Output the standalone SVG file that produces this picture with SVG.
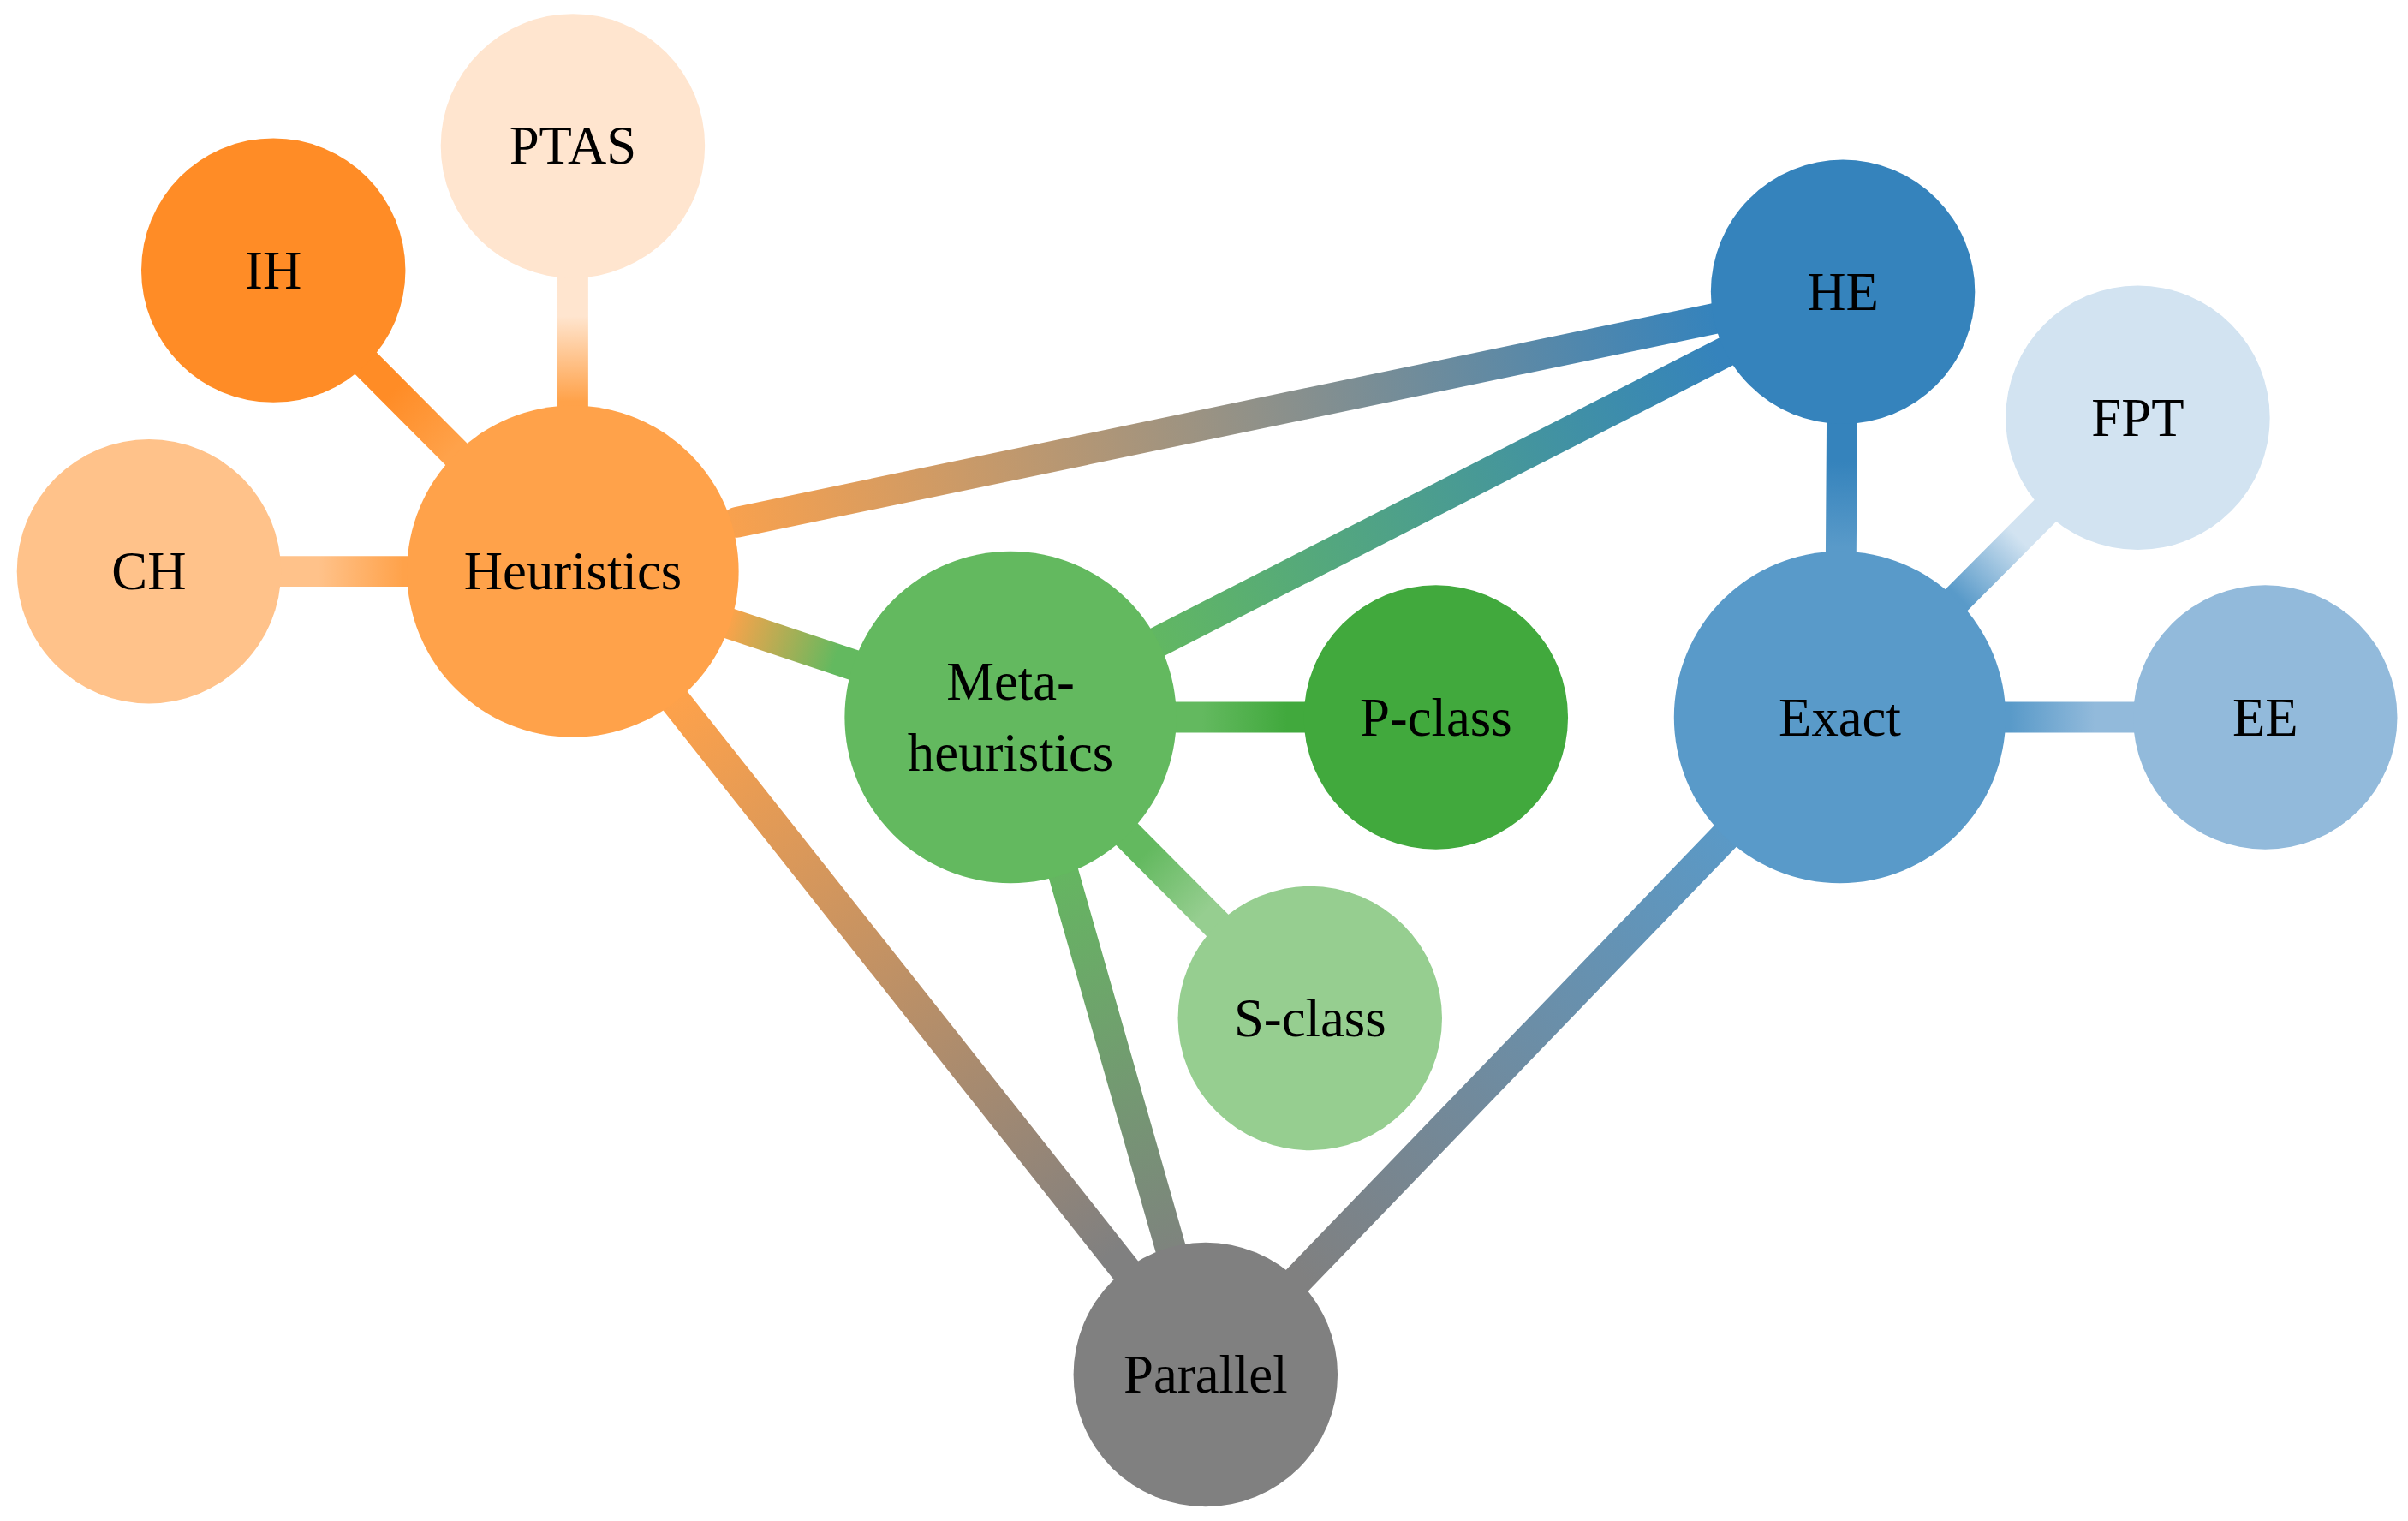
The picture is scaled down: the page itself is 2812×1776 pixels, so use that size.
<svg xmlns="http://www.w3.org/2000/svg" width="2812" height="1776" viewBox="0 0 2812 1776">
<style>
text{font-family:"Liberation Serif","DejaVu Serif",serif;font-size:35px;fill:#000;text-anchor:middle;dominant-baseline:central}
.c{stroke-width:20;stroke-linecap:round;fill:none}
</style>
<defs>
<linearGradient id="g1" gradientUnits="userSpaceOnUse" x1="373" y1="372" x2="373" y2="95"><stop offset="0.4" stop-color="#FFA24A"/><stop offset="0.6" stop-color="#FFE5CF"/></linearGradient>
<linearGradient id="g2" gradientUnits="userSpaceOnUse" x1="373" y1="372" x2="178" y2="176"><stop offset="0.4" stop-color="#FFA24A"/><stop offset="0.6" stop-color="#FF8C26"/></linearGradient>
<linearGradient id="g3" gradientUnits="userSpaceOnUse" x1="373" y1="372" x2="97" y2="372"><stop offset="0.4" stop-color="#FFA24A"/><stop offset="0.6" stop-color="#FFC28A"/></linearGradient>
<linearGradient id="g4" gradientUnits="userSpaceOnUse" x1="373" y1="372" x2="658" y2="467"><stop offset="0.35" stop-color="#FFA24A"/><stop offset="0.6" stop-color="#63B95F"/></linearGradient>
<linearGradient id="g5" gradientUnits="userSpaceOnUse" x1="373" y1="372" x2="1200" y2="190"><stop offset="0.1" stop-color="#FFA24A"/><stop offset="0.9" stop-color="#3583BC"/></linearGradient>
<linearGradient id="g6" gradientUnits="userSpaceOnUse" x1="373" y1="372" x2="785" y2="895"><stop offset="0.15" stop-color="#FFA24A"/><stop offset="0.85" stop-color="#808080"/></linearGradient>
<linearGradient id="g7" gradientUnits="userSpaceOnUse" x1="658" y1="467" x2="1200" y2="190"><stop offset="0.15" stop-color="#63B95F"/><stop offset="0.85" stop-color="#3583BC"/></linearGradient>
<linearGradient id="g8" gradientUnits="userSpaceOnUse" x1="658" y1="467" x2="785" y2="895"><stop offset="0.2" stop-color="#63B95F"/><stop offset="0.85" stop-color="#808080"/></linearGradient>
<linearGradient id="g9" gradientUnits="userSpaceOnUse" x1="658" y1="467" x2="935" y2="467"><stop offset="0.45" stop-color="#63B95F"/><stop offset="0.65" stop-color="#41A93D"/></linearGradient>
<linearGradient id="g10" gradientUnits="userSpaceOnUse" x1="658" y1="467" x2="853" y2="663"><stop offset="0.45" stop-color="#63B95F"/><stop offset="0.65" stop-color="#96CE90"/></linearGradient>
<linearGradient id="g11" gradientUnits="userSpaceOnUse" x1="1198" y1="467" x2="1200" y2="190"><stop offset="0.4" stop-color="#599AC9"/><stop offset="0.6" stop-color="#3583BC"/></linearGradient>
<linearGradient id="g12" gradientUnits="userSpaceOnUse" x1="1198" y1="467" x2="1392" y2="272"><stop offset="0.4" stop-color="#599AC9"/><stop offset="0.6" stop-color="#D2E3F1"/></linearGradient>
<linearGradient id="g13" gradientUnits="userSpaceOnUse" x1="1198" y1="467" x2="1475" y2="467"><stop offset="0.4" stop-color="#599AC9"/><stop offset="0.6" stop-color="#92BADB"/></linearGradient>
<linearGradient id="g14" gradientUnits="userSpaceOnUse" x1="1198" y1="467" x2="785" y2="895"><stop offset="0.15" stop-color="#599AC9"/><stop offset="0.85" stop-color="#808080"/></linearGradient>
</defs>
<g transform="scale(1.7934)">
<g id="connectors">
<line class="c" x1="373" y1="372" x2="373" y2="95" stroke="url(#g1)" stroke-width="24"/>
<line class="c" x1="373" y1="372" x2="178" y2="176" stroke="url(#g2)" stroke-width="24"/>
<line class="c" x1="373" y1="372" x2="97" y2="372" stroke="url(#g3)" stroke-width="24"/>
<line class="c" x1="373" y1="372" x2="658" y2="467" stroke="url(#g4)" stroke-width="30"/>
<line class="c" x1="480" y1="340" x2="1200" y2="190" stroke="url(#g5)" stroke-width="17"/>
<line class="c" x1="373" y1="372" x2="775" y2="880" stroke="url(#g6)" stroke-width="17"/>
<line class="c" x1="658" y1="467" x2="1200" y2="190" stroke="url(#g7)" stroke-width="17"/>
<line class="c" x1="690" y1="560" x2="770" y2="840" stroke="url(#g8)" stroke-width="17"/>
<line class="c" x1="658" y1="467" x2="935" y2="467" stroke="url(#g9)" stroke-width="24"/>
<line class="c" x1="658" y1="467" x2="853" y2="663" stroke="url(#g10)" stroke-width="24"/>
<line class="c" x1="1198" y1="467" x2="1200" y2="190" stroke="url(#g11)" stroke-width="24"/>
<line class="c" x1="1198" y1="467" x2="1392" y2="272" stroke="url(#g12)" stroke-width="24"/>
<line class="c" x1="1198" y1="467" x2="1475" y2="467" stroke="url(#g13)" stroke-width="24"/>
<line class="c" x1="1198" y1="467" x2="800" y2="880" stroke="url(#g14)" stroke-width="17"/>
</g>
<g id="PTAS"><circle cx="373" cy="95" r="86" fill="#FFE5CF"/><text x="373" y="95">PTAS</text></g>
<g id="IH"><circle cx="178" cy="176" r="86" fill="#FF8C26"/><text x="178" y="176">IH</text></g>
<g id="CH"><circle cx="97" cy="372" r="86" fill="#FFC28A"/><text x="97" y="372">CH</text></g>
<g id="Heuristics"><circle cx="373" cy="372" r="108" fill="#FFA24A"/><text x="373" y="372">Heuristics</text></g>
<g id="Meta"><circle cx="658" cy="467" r="108" fill="#63B95F"/><text x="658" y="444">Meta-</text><text x="658" y="490">heuristics</text></g>
<g id="Pclass"><circle cx="935" cy="467" r="86" fill="#41A93D"/><text x="935" y="467">P-class</text></g>
<g id="Sclass"><circle cx="853" cy="663" r="86" fill="#96CE90"/><text x="853" y="663">S-class</text></g>
<g id="HE"><circle cx="1200" cy="190" r="86" fill="#3583BC"/><text x="1200" y="190">HE</text></g>
<g id="FPT"><circle cx="1392" cy="272" r="86" fill="#D2E3F1"/><text x="1392" y="272">FPT</text></g>
<g id="Exact"><circle cx="1198" cy="467" r="108" fill="#599AC9"/><text x="1198" y="467">Exact</text></g>
<g id="EE"><circle cx="1475" cy="467" r="86" fill="#92BADB"/><text x="1475" y="467">EE</text></g>
<g id="Parallel"><circle cx="785" cy="895" r="86" fill="#808080"/><text x="785" y="895">Parallel</text></g>
</g>
</svg>
